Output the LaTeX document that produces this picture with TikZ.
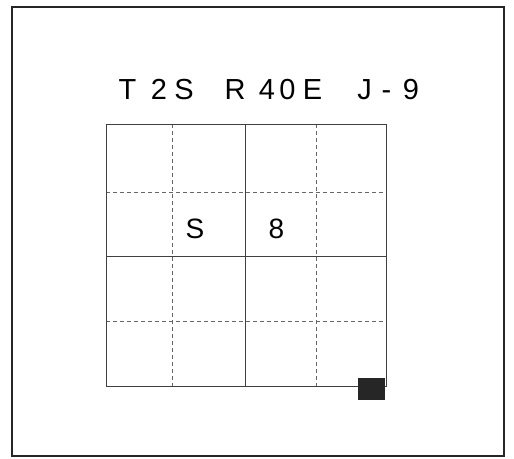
\documentclass[tikz,border=0pt]{standalone}
\usepackage{fontspec}
\setmainfont{Liberation Sans}
\begin{document}
\begin{tikzpicture}[x=1pt,y=-1pt,
  ch/.style={inner sep=0pt,anchor=base,font=\fontsize{29}{30}\selectfont,text=black},
  cellch/.style={inner sep=0pt,anchor=base,font=\fontsize{28}{30}\selectfont,text=black},
  solidline/.style={draw=black!75,line width=0.9pt},
  dashline/.style={draw=black!60,line width=0.7pt,dash pattern=on 4pt off 3pt}]
\useasboundingbox (0,0) rectangle (514,458);
\fill[white] (0,0) rectangle (514,458);
\draw[black!85,line width=1.8pt] (12,7) rectangle (504,456);
% title
\node[ch] (t1) at (127.5,99) {T};
\node[ch] (t2) at (159,99) {2};
\node[ch] (t3) at (184,99) {S};
\node[ch] (t4) at (235,99) {R};
\node[ch] (t5) at (267,99) {4};
\node[ch] (t6) at (287.5,99) {0};
\node[ch] (t7) at (312.5,99) {E};
\node[ch] (t8) at (364.5,99) {J};
\node[ch] (t9) at (386.5,99) {-};
\node[ch] (t10) at (411,99) {9};
% grid
\draw[dashline] (172,124) -- (172,386);
\draw[dashline] (316,124) -- (316,386);
\draw[dashline] (106,192) -- (386,192);
\draw[dashline] (106,321) -- (386,321);
\draw[solidline] (245,124) -- (245,386);
\draw[solidline] (106,256) -- (386,256);
\draw[solidline] (106,124) rectangle (386,386);
% cell texts
\node[cellch] (cs) at (195,238) {S};
\node[cellch] (c8) at (276.5,238) {8};
% black square
\fill[black!85] (358,378) rectangle (385,400);
\end{tikzpicture}
\end{document}
